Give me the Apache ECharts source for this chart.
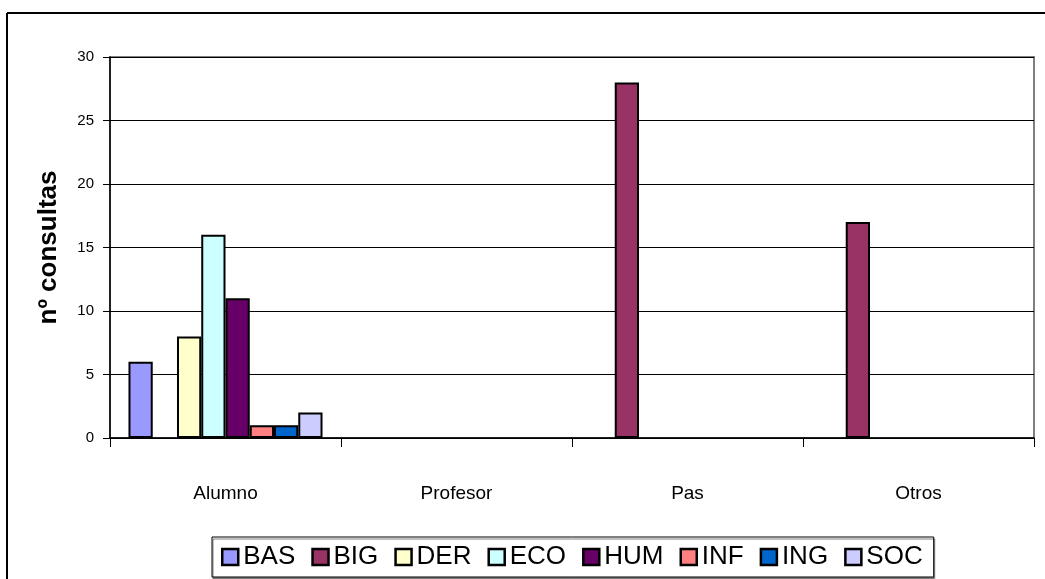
<!DOCTYPE html>
<html>
<head>
<meta charset="utf-8">
<script src="https://cdn.jsdelivr.net/npm/echarts@6/dist/echarts.min.js"></script>
<style>
  html, body { margin: 0; padding: 0; background: #fff; }
  #chart { width: 1045px; height: 579px; }
</style>
</head>
<body>
<div id="chart"></div>
<script>
var categories = ['Alumno', 'Profesor', 'Pas', 'Otros'];
var seriesNames = ['BAS', 'BIG', 'DER', 'ECO', 'HUM', 'INF', 'ING', 'SOC'];
var seriesColors = ['#9999FF', '#993366', '#FFFFCC', '#CCFFFF', '#660066', '#FF8080', '#0066CC', '#CCCCFF'];
var BAS = [6, 0, 0, 0];
var BIG = [0, 0, 28, 17];
var DER = [8, 0, 0, 0];
var ECO = [16, 0, 0, 0];
var HUM = [11, 0, 0, 0];
var INF = [1, 0, 0, 0];
var ING = [1, 0, 0, 0];
var SOC = [2, 0, 0, 0];
var seriesValues = [BAS, BIG, DER, ECO, HUM, INF, ING, SOC];

var chart = echarts.init(document.getElementById('chart'));

var series = [];
seriesNames.forEach(function (name, i) {
  series.push({
    name: name,
    type: 'bar',
    // los ceros no se dibujan como barra
    data: seriesValues[i].map(function (v) { return v === 0 ? null : v; }),
    barGap: 0,
    barCategoryGap: '16%',
    itemStyle: {
      color: seriesColors[i],
      borderColor: '#000',
      borderWidth: 2
    }
  });
});

var option = {
  animation: false,
  backgroundColor: '#fff',
  textStyle: { fontFamily: 'Liberation Sans, Arial, sans-serif', color: '#000' },
  graphic: [
    // marco exterior del gráfico
    { type: 'line', shape: { x1: 7, y1: 13, x2: 1045, y2: 13 }, style: { stroke: '#000', lineWidth: 2 } },
    { type: 'line', shape: { x1: 7, y1: 13, x2: 7, y2: 579 }, style: { stroke: '#000', lineWidth: 2 } }
  ],
  grid: {
    left: 110, right: 11, top: 57, bottom: 141,
    show: true,
    borderColor: '#808080',
    borderWidth: 2,
    backgroundColor: '#fff'
  },
  legend: {
    left: 212,
    top: 537,
    padding: [7, 11, 7, 9],
    itemWidth: 16,
    itemHeight: 16,
    itemGap: 16,
    icon: 'rect',
    backgroundColor: '#fff',
    borderColor: '#000',
    borderWidth: 1,
    shadowColor: '#808080',
    shadowOffsetX: 1,
    shadowOffsetY: 2,
    shadowBlur: 0,
    itemStyle: { borderColor: '#000', borderWidth: 2.5 },
    textStyle: { fontSize: 26, color: '#000', lineHeight: 26, fontFamily: 'Liberation Sans, Arial, sans-serif' },
    data: seriesNames
  },
  xAxis: {
    type: 'category',
    data: categories,
    axisLine: { lineStyle: { color: '#000', width: 1.5 } },
    axisTick: { show: true, length: 9, lineStyle: { color: '#000' } },
    axisLabel: { fontSize: 19, color: '#000', margin: 46 },
    splitLine: { show: false }
  },
  yAxis: {
    type: 'value',
    min: 0,
    max: 30,
    interval: 5,
    name: 'nº consultas',
    nameLocation: 'middle',
    nameGap: 48,
    nameTextStyle: { fontSize: 26, fontWeight: 'bold', color: '#000' },
    axisLine: { show: true, lineStyle: { color: '#000', width: 1.5 } },
    axisTick: { show: true, length: 7, lineStyle: { color: '#000' } },
    axisLabel: { fontSize: 15, color: '#000', margin: 16 },
    splitLine: { show: true, lineStyle: { color: '#000', width: 1 } }
  },
  series: series
};

chart.setOption(option);
</script>
</body>
</html>
